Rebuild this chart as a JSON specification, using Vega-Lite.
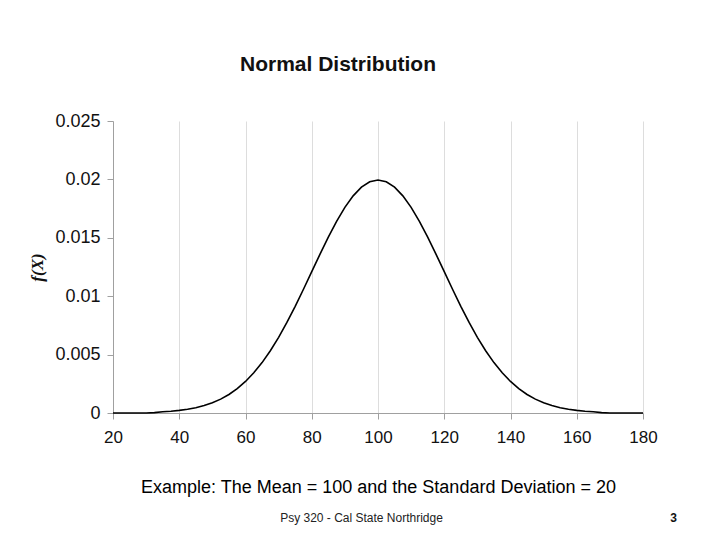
{
  "$schema": "https://vega.github.io/schema/vega-lite/v6.json",
  "autosize": {"type": "none"},
  "padding": {"left": 113, "top": 121, "right": 77, "bottom": 127},
  "width": 530,
  "height": 292,
  "background": "white",
  "title": {
    "text": "Normal Distribution",
    "font": "Liberation Sans",
    "fontSize": 21,
    "fontWeight": "bold",
    "color": "#111111",
    "anchor": "middle",
    "frame": "group",
    "dx": -40,
    "offset": 37
  },
  "config": {
    "view": {"stroke": null},
    "font": "Liberation Sans"
  },
  "datasets": {
    "pdf": [
      {"x": 20, "fx": 0},
      {"x": 22.5, "fx": 0},
      {"x": 25, "fx": 0},
      {"x": 27.5, "fx": 0},
      {"x": 30, "fx": 0},
      {"x": 32.5, "fx": 0.00003},
      {"x": 35, "fx": 0.000101},
      {"x": 37.5, "fx": 0.000151},
      {"x": 40, "fx": 0.000222},
      {"x": 42.5, "fx": 0.00032},
      {"x": 45, "fx": 0.000455},
      {"x": 47.5, "fx": 0.000636},
      {"x": 50, "fx": 0.000876},
      {"x": 52.5, "fx": 0.001189},
      {"x": 55, "fx": 0.001587},
      {"x": 57.5, "fx": 0.002086},
      {"x": 60, "fx": 0.0027},
      {"x": 62.5, "fx": 0.003439},
      {"x": 65, "fx": 0.004314},
      {"x": 67.5, "fx": 0.005327},
      {"x": 70, "fx": 0.006476},
      {"x": 72.5, "fx": 0.007751},
      {"x": 75, "fx": 0.009132},
      {"x": 77.5, "fx": 0.010594},
      {"x": 80, "fx": 0.012099},
      {"x": 82.5, "fx": 0.013603},
      {"x": 85, "fx": 0.015057},
      {"x": 87.5, "fx": 0.016408},
      {"x": 90, "fx": 0.017603},
      {"x": 92.5, "fx": 0.018593},
      {"x": 95, "fx": 0.019333},
      {"x": 97.5, "fx": 0.019792},
      {"x": 100, "fx": 0.019947},
      {"x": 102.5, "fx": 0.019792},
      {"x": 105, "fx": 0.019333},
      {"x": 107.5, "fx": 0.018593},
      {"x": 110, "fx": 0.017603},
      {"x": 112.5, "fx": 0.016408},
      {"x": 115, "fx": 0.015057},
      {"x": 117.5, "fx": 0.013603},
      {"x": 120, "fx": 0.012099},
      {"x": 122.5, "fx": 0.010594},
      {"x": 125, "fx": 0.009132},
      {"x": 127.5, "fx": 0.007751},
      {"x": 130, "fx": 0.006476},
      {"x": 132.5, "fx": 0.005327},
      {"x": 135, "fx": 0.004314},
      {"x": 137.5, "fx": 0.003439},
      {"x": 140, "fx": 0.0027},
      {"x": 142.5, "fx": 0.002086},
      {"x": 145, "fx": 0.001587},
      {"x": 147.5, "fx": 0.001189},
      {"x": 150, "fx": 0.000876},
      {"x": 152.5, "fx": 0.000636},
      {"x": 155, "fx": 0.000455},
      {"x": 157.5, "fx": 0.00032},
      {"x": 160, "fx": 0.000222},
      {"x": 162.5, "fx": 0.000151},
      {"x": 165, "fx": 0.000101},
      {"x": 167.5, "fx": 0.00003},
      {"x": 170, "fx": 0},
      {"x": 172.5, "fx": 0},
      {"x": 175, "fx": 0},
      {"x": 177.5, "fx": 0},
      {"x": 180, "fx": 0}
    ]
  },
  "data": {"name": "pdf"},
  "layer": [
    {
      "mark": {"type": "line", "color": "#000000", "strokeWidth": 1.6},
      "encoding": {
        "x": {
          "field": "x",
          "type": "quantitative",
          "scale": {"domain": [20, 180], "nice": false, "zero": false},
          "axis": {
            "values": [20, 40, 60, 80, 100, 120, 140, 160, 180],
            "grid": true,
            "gridColor": "#dddddd",
            "domainColor": "#a0a0a0",
            "tickColor": "#a0a0a0",
            "tickSize": 6,
            "labelFontSize": 17,
            "labelColor": "#111111",
            "labelPadding": 10,
            "labelFlush": false,
            "title": "Example: The Mean = 100 and the Standard Deviation = 20",
            "titleFontSize": 18,
            "titleFontWeight": "normal",
            "titleColor": "#000000",
            "titlePadding": 33
          }
        },
        "y": {
          "field": "fx",
          "type": "quantitative",
          "scale": {"domain": [0, 0.025], "nice": false},
          "axis": {
            "values": [0, 0.005, 0.01, 0.015, 0.02, 0.025],
            "format": "~g",
            "grid": false,
            "domainColor": "#a0a0a0",
            "tickColor": "#a0a0a0",
            "tickSize": 6,
            "labelFontSize": 18,
            "labelColor": "#111111",
            "labelPadding": 7,
            "title": "f(X)",
            "titleFont": "Liberation Serif",
            "titleFontStyle": "italic",
            "titleFontWeight": "bold",
            "titleFontSize": 17,
            "titleColor": "#111111",
            "titlePadding": 8
          }
        }
      }
    },
    {
      "mark": {"type": "line", "opacity": 0},
      "encoding": {
        "x": {
          "field": "x",
          "type": "quantitative",
          "axis": {
            "orient": "bottom",
            "labels": false,
            "ticks": false,
            "domain": false,
            "grid": false,
            "title": "Psy 320 - Cal State Northridge",
            "titleFontSize": 12,
            "titleFontWeight": "normal",
            "titleColor": "#222222",
            "titleX": 248,
            "titleY": 108,
            "titleBaseline": "alphabetic",
            "titleAlign": "center"
          }
        },
        "y": {
          "field": "fx",
          "type": "quantitative",
          "axis": {
            "orient": "right",
            "labels": false,
            "ticks": false,
            "domain": false,
            "grid": false,
            "title": "3",
            "titleAngle": 0,
            "titleFontSize": 12,
            "titleFontWeight": "bold",
            "titleColor": "#111111",
            "titleX": 30,
            "titleY": 400,
            "titleBaseline": "alphabetic",
            "titleAlign": "center"
          }
        }
      }
    }
  ],
  "resolve": {"axis": {"x": "independent", "y": "independent"}}
}
